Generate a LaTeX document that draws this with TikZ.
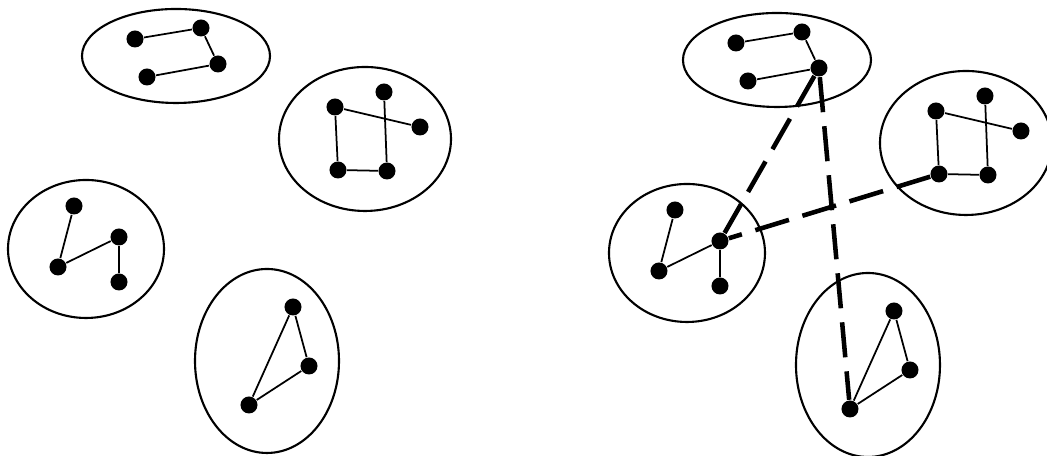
\documentclass[tikz,border=0pt]{standalone}
\usepackage{tikz}

\begin{document}
\begin{tikzpicture}[x=0.01cm, y=-0.01cm,
  dot/.style={circle, fill=black, inner sep=0pt, minimum size=1.7mm},
  blob/.style={line width=0.6pt},
  link/.style={line width=0.5pt},
  bridge/.style={line width=1.3pt, dash pattern=on 10pt off 4pt}]
\useasboundingbox (0,0) rectangle (1047,456);
\foreach \p/\dx/\dy in {L/0/0, R/601/4}{
\begin{scope}[shift={(\dx,\dy)}]
\draw[blob] (176,56) ellipse [x radius=94, y radius=47];
\node[dot] (\p top1) at (135,39) {};
\node[dot] (\p top2) at (201,28) {};
\node[dot] (\p top3) at (218,64) {};
\node[dot] (\p top4) at (147,77) {};
\draw[link] (\p top1) -- (\p top2) -- (\p top3) -- (\p top4);
\draw[blob] (365,139) ellipse [x radius=86, y radius=72];
\node[dot] (\p sq1) at (335,107) {};
\node[dot] (\p sq2) at (384,92) {};
\node[dot] (\p sq3) at (420,127) {};
\node[dot] (\p sq4) at (338,170) {};
\node[dot] (\p sq5) at (387,171) {};
\draw[link] (\p sq3) -- (\p sq1) -- (\p sq4) -- (\p sq5) -- (\p sq2);
\draw[blob] (86,249) ellipse [x radius=78, y radius=69];
\node[dot] (\p lf1) at (74,206) {};
\node[dot] (\p lf2) at (119,237) {};
\node[dot] (\p lf3) at (58,267) {};
\node[dot] (\p lf4) at (119,282) {};
\draw[link] (\p lf1) -- (\p lf3) -- (\p lf2) -- (\p lf4);
\draw[blob] (267,361) ellipse [x radius=72, y radius=92];
\node[dot] (\p bt1) at (293,307) {};
\node[dot] (\p bt2) at (309,366) {};
\node[dot] (\p bt3) at (249,405) {};
\draw[link] (\p bt1) -- (\p bt2) -- (\p bt3) -- (\p bt1);
\end{scope}
}
\draw[bridge] (Rtop3) -- (Rlf2);
\draw[bridge] (Rtop3) -- (Rbt3);
\draw[bridge] (Rsq4) -- (Rlf2);
\end{tikzpicture}
\end{document}
